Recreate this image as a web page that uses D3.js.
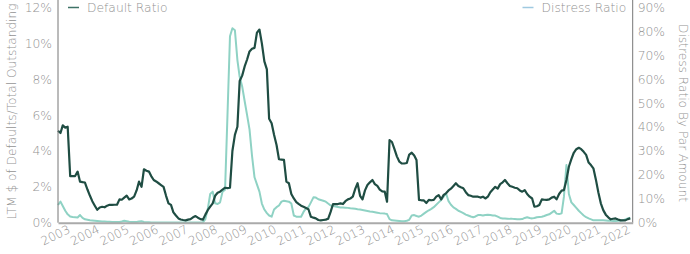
<!DOCTYPE html>
<html>
<head>
<meta charset="utf-8">
<script src="https://cdn.jsdelivr.net/npm/d3@7"></script>
<style>
  body { margin: 0; background: #fff; }
  text { font-family: "DejaVu Sans", "Open Sans", sans-serif; font-weight: 200; fill: #929292; }
</style>
</head>
<body>
<div id="chart"></div>
<script>
// monthly series, Jan 2003 .. Jun 2022 (one row per year)
const startYear = 2003;

const defaultRatio = [
  5.13, 5.0, 5.43, 5.3, 5.35, 2.6, 2.6, 2.6, 2.85, 2.29, 2.26, 2.24,
  1.85, 1.5, 1.2, 0.95, 0.72, 0.85, 0.89, 0.86, 0.95, 1.0, 0.99, 1.0,
  1.0, 1.3, 1.28, 1.4, 1.51, 1.3, 1.35, 1.45, 1.8, 2.29, 2.0, 2.98,
  2.9, 2.85, 2.6, 2.38, 2.3, 2.2, 2.1, 2.0, 1.5, 1.08, 0.99, 0.58,
  0.4, 0.24, 0.18, 0.15, 0.13, 0.17, 0.2, 0.3, 0.37, 0.28, 0.2, 0.17,
  0.45, 0.71, 0.9, 1.08, 1.5, 1.67, 1.73, 1.85, 1.95, 1.93, 1.95, 4.0,
  4.9, 5.35, 7.9, 8.2, 8.7, 9.1, 9.55, 9.7, 9.75, 10.6, 10.77, 10.0,
  9.0, 8.55, 5.8, 5.54, 4.9, 4.33, 3.54, 3.52, 3.5, 2.29, 2.2, 1.6,
  1.35, 1.15, 1.05, 0.95, 0.89, 0.82, 0.75, 0.33, 0.28, 0.24, 0.15, 0.13,
  0.15, 0.17, 0.22, 0.6, 1.04, 1.04, 1.04, 1.08, 1.04, 1.2, 1.3, 1.35,
  1.45, 1.9, 2.2, 1.5, 1.3, 1.8, 2.1, 2.25, 2.38, 2.15, 2.05, 1.85,
  1.75, 1.73, 1.17, 4.61, 4.5, 4.1, 3.7, 3.4, 3.3, 3.3, 3.33, 3.8,
  3.9, 3.75, 3.5, 1.27, 1.25, 1.24, 1.1, 1.27, 1.25, 1.27, 1.45, 1.54,
  1.3, 1.55, 1.64, 1.8, 1.9, 2.05, 2.2, 2.05, 1.98, 1.92, 1.7, 1.54,
  1.5, 1.45, 1.45, 1.45, 1.4, 1.45, 1.35, 1.45, 1.7, 1.85, 2.0, 1.9,
  2.15, 2.25, 2.38, 2.2, 2.05, 2.0, 1.95, 1.92, 1.8, 1.73, 1.82, 1.6,
  1.45, 1.35, 0.89, 0.92, 0.99, 1.3, 1.28, 1.27, 1.3, 1.4, 1.45, 1.3,
  1.6, 1.79, 1.82, 2.38, 3.12, 3.55, 3.9, 4.1, 4.18, 4.1, 3.95, 3.78,
  3.35, 3.2, 3.03, 2.4, 1.7, 1.08, 0.7, 0.45, 0.3, 0.19, 0.22, 0.24,
  0.18, 0.13, 0.13, 0.13, 0.2, 0.24
];

const distressRatio = [
  7.4, 8.8, 7.0, 5.0, 3.5, 2.6, 2.4, 2.3, 2.2, 3.2, 2.0, 1.4,
  1.2, 1.0, 0.9, 0.8, 0.7, 0.6, 0.5, 0.5, 0.4, 0.4, 0.3, 0.3,
  0.3, 0.3, 0.5, 0.8, 0.6, 0.4, 0.3, 0.3, 0.3, 0.5, 0.6, 0.3,
  0.2, 0.15, 0.1, 0.1, 0.1, 0.1, 0.1, 0.1, 0.1, 0.1, 0.1, 0.1,
  0.1, 0.1, 0.1, 0.1, 0.1, 0.1, 0.1, 0.1, 0.1, 0.1, 0.1, 0.1,
  1.5, 6.0, 12.0, 13.0, 8.1, 7.8, 8.5, 13.0, 13.8, 45.0, 78.0, 81.3,
  80.5, 68.0, 61.0, 57.0, 51.0, 45.0, 39.0, 28.0, 19.0, 16.0, 13.0, 8.0,
  5.5, 4.0, 3.0, 2.5, 5.5, 6.5, 7.2, 8.8, 9.2, 9.0, 8.8, 8.0,
  3.0, 2.5, 2.5, 2.5, 4.5, 6.0, 6.5, 8.5, 10.6, 10.5, 9.8, 9.5,
  9.2, 8.8, 8.0, 7.2, 7.0, 6.8, 6.6, 6.4, 6.4, 6.3, 6.2, 6.0,
  5.9, 5.8, 5.6, 5.5, 5.3, 5.1, 4.9, 4.7, 4.6, 4.4, 4.2, 4.0,
  3.9, 3.8, 3.6, 1.5, 1.0, 0.9, 0.8, 0.7, 0.6, 0.6, 0.8, 1.2,
  3.0, 3.2, 2.8, 2.5, 3.0, 3.8, 4.5, 5.2, 5.8, 6.5, 7.5, 8.5,
  9.5, 10.9, 12.3, 9.0, 7.5, 6.4, 5.8, 5.0, 4.5, 4.0, 3.4, 3.0,
  2.6, 2.3, 2.6, 3.2, 3.2, 3.0, 3.2, 3.3, 3.2, 3.0, 3.0, 2.5,
  2.0, 1.8, 1.8, 1.7, 1.6, 1.6, 1.5, 1.4, 1.4, 1.5, 2.0, 2.3,
  2.0, 1.8, 2.0, 2.3, 2.4, 2.5, 2.8, 3.2, 3.5, 4.2, 5.0, 3.8,
  3.6, 3.9, 10.9, 24.1, 12.0, 8.5, 7.4, 6.2, 5.0, 4.0, 3.0, 2.3,
  1.8, 1.4, 1.0, 1.0, 1.0, 1.0, 1.0, 0.9, 0.8, 0.8, 0.7, 0.7,
  0.8, 0.9, 1.0, 1.4, 1.8, 2.1
];

const yearTicks = d3.range(2003, 2023);
const leftTicks = [0, 2, 4, 6, 8, 10, 12];
const rightTicks = [0, 10, 20, 30, 40, 50, 60, 70, 80, 90];

const width = 690, height = 254;
const margin = {top: 7.5, left: 58, right: 57.3, bottom: 31.3};
const plotBottom = height - margin.bottom;
const tickSize = 12.3;
const titleSize = 12.2;

const darkColor = "#1f4d43";
const lightColor = "#8fd2c4";

const dates = defaultRatio.map((d, i) => new Date(startYear, i, 1));

const x = d3.scaleTime()
  .domain([new Date(startYear, 0, 1), new Date(2022, 6, 1)])
  .range([margin.left, width - margin.right]);

const yLeft = d3.scaleLinear().domain([0, 12]).range([plotBottom, margin.top]);
const yRight = d3.scaleLinear().domain([0, 90]).range([plotBottom, margin.top]);

const svg = d3.select("#chart").append("svg")
  .attr("width", width)
  .attr("height", height);

// lines first, axes drawn over
const lineDefault = d3.line().x((d, i) => x(dates[i])).y(d => yLeft(d));
const lineDistress = d3.line().x((d, i) => x(dates[i])).y(d => yRight(d));

svg.append("path")
  .datum(distressRatio)
  .attr("fill", "none")
  .attr("stroke", lightColor)
  .attr("stroke-width", 2)
  .attr("stroke-linejoin", "round")
  .attr("d", lineDistress);

svg.append("path")
  .datum(defaultRatio)
  .attr("fill", "none")
  .attr("stroke", darkColor)
  .attr("stroke-width", 2.2)
  .attr("stroke-linejoin", "round")
  .attr("d", lineDefault);

// left axis
const gLeft = svg.append("g")
  .attr("transform", `translate(${margin.left},0)`)
  .call(d3.axisLeft(yLeft).tickValues(leftTicks).tickSize(0).tickPadding(6).tickFormat(d => d + "%"));
gLeft.select(".domain").remove();
gLeft.selectAll("text").attr("font-size", tickSize).attr("font-family", null);

// right axis
const gRight = svg.append("g")
  .attr("transform", `translate(${width - margin.right},0)`)
  .call(d3.axisRight(yRight).tickValues(rightTicks).tickSize(0).tickPadding(5).tickFormat(d => d + "%"));
gRight.select(".domain").remove();
gRight.selectAll("text").attr("font-size", tickSize).attr("font-family", null);

// vertical frame lines
svg.append("line")
  .attr("x1", margin.left).attr("x2", margin.left)
  .attr("y1", 0).attr("y2", plotBottom)
  .attr("stroke", "#777").attr("stroke-width", 1);
svg.append("line")
  .attr("x1", width - margin.right).attr("x2", width - margin.right)
  .attr("y1", 0).attr("y2", plotBottom)
  .attr("stroke", "#777").attr("stroke-width", 1);

// bottom axis
const gBottom = svg.append("g")
  .attr("transform", `translate(0,${plotBottom})`)
  .call(d3.axisBottom(x).tickValues(yearTicks.map(y => new Date(y, 0, 1))).tickSize(0).tickFormat(d3.timeFormat("%Y")));
gBottom.select(".domain")
  .attr("stroke", "#aaa")
  .attr("stroke-width", 2);
gBottom.selectAll(".tick text")
  .attr("font-size", 12)
  .attr("font-family", null)
  .attr("text-anchor", "end")
  .attr("dy", null)
  .attr("y", 0)
  .attr("transform", "translate(12.5,9.5) rotate(-26)");

// axis titles
svg.append("text")
  .attr("transform", `translate(16,111.5) rotate(-90)`)
  .attr("text-anchor", "middle")
  .attr("font-size", titleSize)
  .text("LTM $ of Defaults/Total Outstanding");

svg.append("text")
  .attr("transform", `translate(678.5,113) rotate(90)`)
  .attr("text-anchor", "middle")
  .attr("font-size", titleSize)
  .text("Distress Ratio By Par Amount");

// legend
const legend = [
  {label: "Default Ratio", color: "#3e7267", x: 68},
  {label: "Distress Ratio", color: "#9fc9e0", x: 522.5}
];
legend.forEach(l => {
  svg.append("line")
    .attr("x1", l.x).attr("x2", l.x + 11)
    .attr("y1", 7.5).attr("y2", 7.5)
    .attr("stroke", l.color).attr("stroke-width", 1.5);
  svg.append("text")
    .attr("x", l.x + 19)
    .attr("y", 7.5)
    .attr("dy", "0.35em")
    .attr("font-size", tickSize)
    .text(l.label);
});
</script>
</body>
</html>
